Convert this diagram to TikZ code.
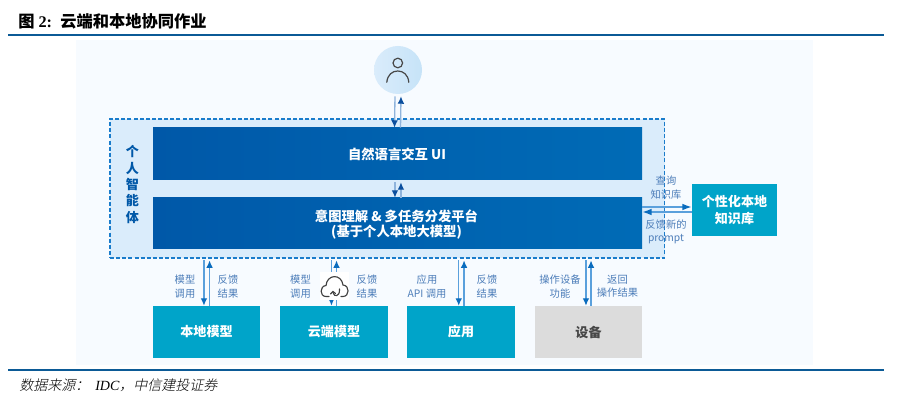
\documentclass[tikz,border=0pt]{standalone}
\usepackage{fontspec}
\usetikzlibrary{arrows.meta}
\setmainfont{Liberation Serif}
\newfontfamily\cjk{Noto Sans CJK SC}
\newfontfamily\cjkslant[FakeSlant=0.22]{Noto Sans CJK SC Light}
\definecolor{rulecol}{HTML}{0B5A96}
\definecolor{panelbg}{HTML}{F7FBFF}
\definecolor{agentbg}{HTML}{DAECFB}
\definecolor{userR}{HTML}{C6E3F8}
\definecolor{dashcol}{HTML}{1A7CCB}
\definecolor{deepL}{HTML}{0058A8}
\definecolor{deepR}{HTML}{006BB6}
\definecolor{tealbox}{HTML}{00A4C9}
\definecolor{greybox}{HTML}{DCDCDC}
\definecolor{labelcol}{HTML}{4C7DB9}
\definecolor{linecol}{HTML}{5AA0DC}
\definecolor{tipcol}{HTML}{0A6CBE}
\definecolor{darktip}{HTML}{0B4F9E}
\definecolor{softline}{HTML}{8FB4DC}
\tikzset{
  deepbox/.style={minimum width=366.75pt,inner sep=0pt,shading=axis,left color=deepL,right color=deepR,shading angle=90},
  deeptext/.style={text=white,inner sep=0pt,align=center,font=\cjk\bfseries\fontsize{9.6}{13}\selectfont},
  tealnode/.style={fill=tealbox,inner sep=0pt,minimum height=39pt,text=white,align=center,
    font=\cjk\bfseries\fontsize{9.8}{12.5}\selectfont},
  greynode/.style={tealnode,fill=greybox,text=black!72},
  note/.style={text=labelcol,inner sep=0pt,align=center,font=\cjk\fontsize{7.7}{10}\selectfont},
  flow/.style={draw=linecol,line width=.95pt,-{Latex[length=5.6pt,width=5pt,color=tipcol]}},
  sideflow/.style={draw=linecol,line width=1.1pt,-{Latex[length=7pt,width=5pt,color=tipcol]}},
  softflow/.style={draw=softline,line width=1pt,-{Latex[length=5.6pt,width=5pt,color=darktip]}},
}
\begin{document}
\begin{tikzpicture}[x=.75pt,y=-.75pt]
\useasboundingbox (0,0) rectangle (907,416);
% page furniture
\node[anchor=west,inner sep=0pt] (heading) at (18,21)
  {\fontsize{12.2}{14}\selectfont\cjk\bfseries 图\hspace{3pt}{\rmfamily\bfseries 2:}\hspace{6.2pt}云端和本地协同作业};
\fill[rulecol] (8,34) rectangle (884,36.5);
\fill[rulecol] (8,369.2) rectangle (884,371.2);
\fill[panelbg] (76,40) rectangle (813,365);
\node[anchor=west,inner sep=0pt] (source) at (19,385)
  {\fontsize{10.5}{12}\selectfont\cjkslant 数据来源\char"FF1A\hspace{4.5pt}{\rmfamily\itshape IDC}\char"FF0C 中信建投证券};

% personal agent container
\node[draw=dashcol,fill=agentbg,dashed,dash pattern=on 3pt off 1.6pt,line width=1pt,minimum width=415.9pt,minimum height=104.25pt,inner sep=0pt] (agent) at (387.25,188.5) {};
\node[text=deepL,inner sep=0pt,align=center,font=\cjk\bfseries\fontsize{9.8}{12.3}\selectfont] (agentname) at (132.5,184.5)
  {个\\人\\智\\能\\体};

% user icon
\node[circle,minimum size=36pt,inner sep=0pt,shading=axis,left color=agentbg,right color=userR] (user) at (398,70) {};
\draw[black!72,line width=.9pt] (397.8,63) circle[radius=3.6pt];
\draw[black!72,line width=.9pt,line cap=round] (386.8,82.3) .. controls (387.5,74.5) and (392.5,71) .. (397.8,71) .. controls (403,71) and (408.2,74.5) .. (408.8,82.3);

% central blocks
\node[deepbox,minimum height=39pt] (ui) at (397.5,154) {};
\node[deeptext,font=\cjk\bfseries\fontsize{10}{13}\selectfont] (uilabel) at (397,154) {自然语言交互 UI};
\node[deepbox,minimum height=38.25pt] (platform) at (397.5,223.5) {};
\node[deeptext,font=\cjk\bfseries\fontsize{10}{11.3}\selectfont] (platformlabel) at (396.5,224.5)
  {意图理解 \& 多任务分发平台\\(基于个人本地大模型)};

% knowledge base and the lower row
\node[tealnode,minimum width=63.75pt] (kb) at (734.5,210) {个性化本地\\知识库};
\node[tealnode,minimum width=80.25pt] (local) at (206.5,332) {本地模型};
\node[tealnode,minimum width=81pt] (cloud) at (334,332) {云端模型};
\node[tealnode,minimum width=81pt] (app) at (461,332) {应用};
\node[greynode,minimum width=80.25pt] (device) at (588.5,332) {设备};

% user and UI links
\draw[softflow] ([xshift=-2.25pt,yshift=-1.5pt]user.south) -- ([xshift=-2.25pt]ui.north);
\draw[softflow] ([xshift=2.25pt]ui.north) -- ([xshift=2.25pt,yshift=-1.5pt]user.south);
\draw[softflow] ([xshift=-1.9pt,yshift=-1.5pt]ui.south) -- ([xshift=-1.9pt]platform.north);
\draw[softflow] ([xshift=2.6pt]platform.north) -- ([xshift=2.6pt,yshift=-1.5pt]ui.south);

% knowledge base links
\draw[sideflow] (platform.east |- 0,207) -- (kb.west |- 0,207);
\draw[sideflow] (kb.west |- 0,212) -- (platform.east |- 0,212);

% lower row links
\draw[flow] ([xshift=-1.9pt,yshift=34pt]local.north) -- ([xshift=-1.9pt]local.north);
\draw[flow] ([xshift=2.3pt]local.north) -- ([xshift=2.3pt,yshift=34pt]local.north);
\draw[flow] ([xshift=-1.9pt,yshift=34pt]cloud.north) -- ([xshift=-1.9pt]cloud.north);
\draw[flow] ([xshift=1.9pt]cloud.north) -- ([xshift=1.9pt,yshift=34pt]cloud.north);
\draw[flow] ([xshift=-1.7pt,yshift=34pt]app.north) -- ([xshift=-1.7pt]app.north);
\draw[flow] ([xshift=2.3pt]app.north) -- ([xshift=2.3pt,yshift=34pt]app.north);
\draw[flow] ([xshift=-1.9pt,yshift=34pt]device.north) -- ([xshift=-1.9pt]device.north);
\draw[flow] ([xshift=1.9pt]device.north) -- ([xshift=1.9pt,yshift=34pt]device.north);

% cloud glyph on the cloud model link
\fill[white] (320,272) rectangle (349,300);
\draw[black!75,line width=.85pt,line cap=round] (329,296.5) -- (326,296.5)
  .. controls (319.5,296.5) and (319.5,286) .. (326,285.5)
  .. controls (327,274) and (341.5,273.5) .. (343,285)
  .. controls (350,285.5) and (349.5,296.5) .. (343,296.5) -- (341,296.5);
\draw[black!75,line width=.85pt,line cap=round] (339.5,289) .. controls (340,297) and (334,297.5) .. (333,292.5);
\draw[black!75,line width=.85pt,line cap=round] (330.5,294) -- (333,291.5) -- (335.5,293.5);

% connector captions
\node[note] (n1) at (185,286.5) {模型\\调用};
\node[note] (n2) at (228,286.5) {反馈\\结果};
\node[note] (n3) at (300.5,286.5) {模型\\调用};
\node[note] (n4) at (367,286.5) {反馈\\结果};
\node[note] (n5) at (427,286.5) {应用\\API 调用};
\node[note] (n6) at (487,286.5) {反馈\\结果};
\node[note] (n7) at (560,286.5) {操作设备\\功能};
\node[note] (n8) at (617.5,286.5) {返回\\操作结果};
\node[note] (n9) at (666,187.5) {查询\\知识库};
\node[note] (n10) at (666,232) {反馈新的\\prompt};
\end{tikzpicture}
\end{document}
